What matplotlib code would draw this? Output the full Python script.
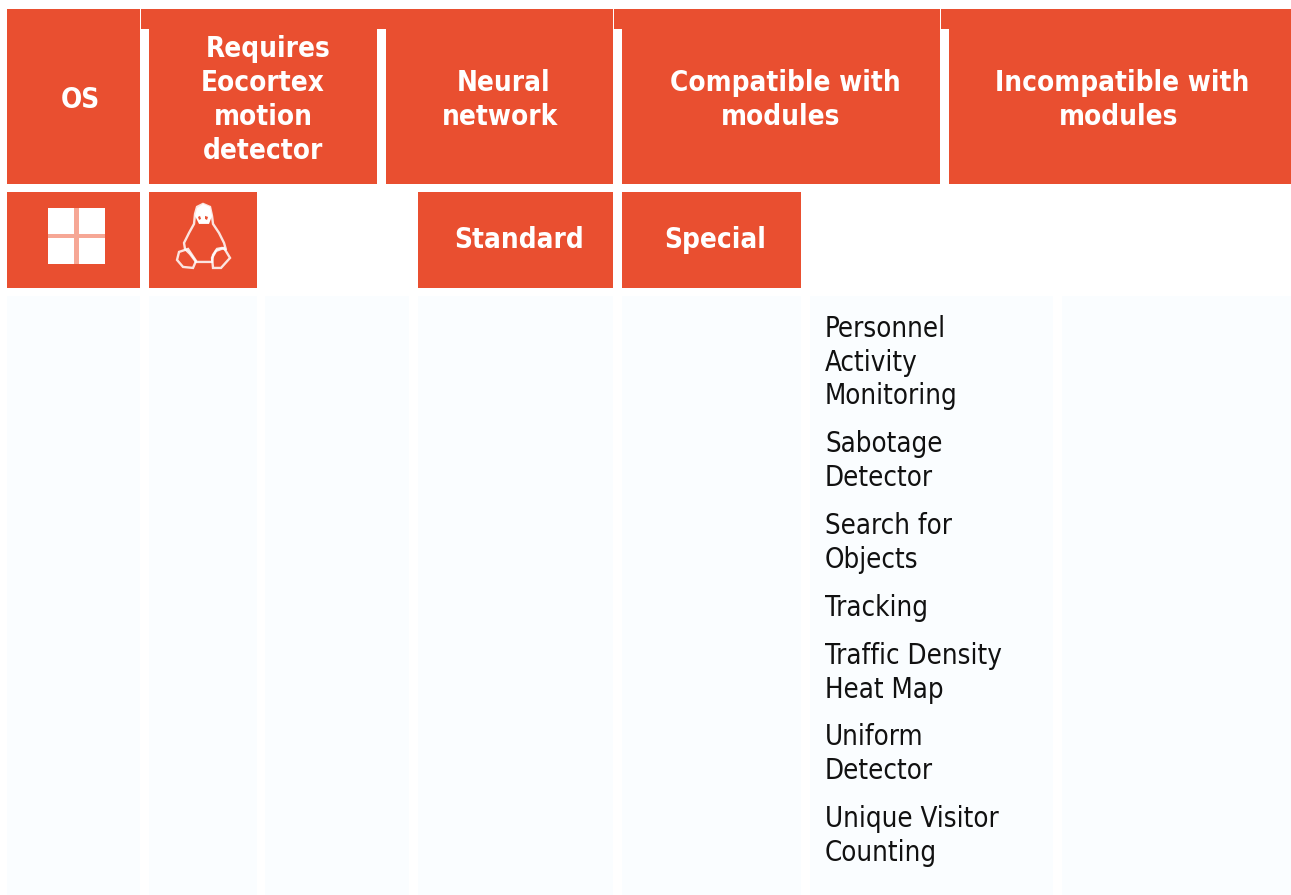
#!/usr/bin/env python3
"""Module compatibility table drawn as matplotlib patches, in pixel coordinates."""
import matplotlib
matplotlib.use('Agg')
import matplotlib.pyplot as plt
from matplotlib.patches import Rectangle, Polygon

ORANGE = '#e94f30'
PALE = '#fafdff'
FONT = 'DejaVu Sans'

# table text
header_labels = [['OS'], ['Requires', 'Eocortex', 'motion', 'detector'], ['Neural', 'network'],
                 ['Compatible with', 'modules'], ['Incompatible with', 'modules']]
sub_labels = ['Standard', 'Special']
compatible_modules = [['Personnel', 'Activity', 'Monitoring'], ['Sabotage', 'Detector'],
                      ['Search for', 'Objects'], ['Tracking'], ['Traffic Density', 'Heat Map'],
                      ['Uniform', 'Detector'], ['Unique Visitor', 'Counting']]

# layout, in pixels: (left, right, top, bottom)
header_cells = [(7, 140, 9, 184), (149, 377, 29, 184), (386, 613, 29, 184),
                (622, 940, 29, 184), (949, 1291, 29, 184)]
header_strips = [(141, 613, 9, 29), (614, 940, 9, 29), (941, 1291, 9, 29)]
sub_cells = [(7, 140, 192, 288), (149, 257, 192, 288), (418, 613, 192, 288), (622, 801, 192, 288)]
body_cols = [(7, 140), (149, 257), (265, 409), (418, 613), (622, 801), (810, 1053), (1062, 1291)]
body_top, body_bottom = 296, 895

header_text_x = [[80], [268, 263, 263, 263], [504, 500], [785, 781], [1122, 1118]]
header_text_y = [[97], [46, 80, 114, 148], [80, 114], [80, 114], [80, 114]]
sub_text_x = [519, 715]
sub_text_y = 237
module_x = 825
module_y = [[326, 360, 393], [441, 475], [523, 557], [605], [653, 687], [734, 768], [816, 850]]

fig = plt.figure(figsize=(12.911, 8.951), dpi=100)
ax = fig.add_axes([0, 0, 1, 1])
ax.set_xlim(0, 1291)
ax.set_ylim(895, 0)
ax.axis('off')


def box(left, right, top, bottom, color=ORANGE):
    ax.add_patch(Rectangle((left, top), right - left, bottom - top, facecolor=color,
                           edgecolor='none', linewidth=0))


for c in header_cells + header_strips + sub_cells:
    box(*c)
for left, right in body_cols:
    box(left, right, body_top, body_bottom, PALE)

# header text
for lines, xs, ys in zip(header_labels, header_text_x, header_text_y):
    for line, x, y in zip(lines, xs, ys):
        ax.text(x, y, line, color='white', fontsize=20, fontweight='bold', family=FONT,
                stretch='condensed', ha='center', va='center_baseline')
for label, x in zip(sub_labels, sub_text_x):
    ax.text(x, sub_text_y, label, color='white', fontsize=20, fontweight='bold', family=FONT,
            stretch='condensed', ha='center', va='center_baseline')

# module list
for lines, ys in zip(compatible_modules, module_y):
    for line, y in zip(lines, ys):
        ax.text(module_x, y, line, color='#111111', fontsize=19.8, family=FONT,
                stretch='condensed', ha='left', va='center_baseline')

# windows icon
box(48, 105, 208, 264, '#f6a795')
for left, right in [(48, 74), (79, 105)]:
    for top, bottom in [(208, 234), (238, 264)]:
        box(left, right, top, bottom, 'white')

# linux icon, outline
body_outline = [(203, 204), (210, 207), (212, 216), (213, 224), (219, 233), (224, 243), (226, 250),
                (222, 248), (217, 249), (213, 255), (212, 262), (196, 262), (190, 254), (185, 249),
                (184, 243), (189, 233), (194, 224), (195, 214), (197, 207)]
left_foot = [(179, 252), (188, 249), (196, 261), (193, 268), (183, 267), (177, 260)]
right_foot = [(216, 251), (224, 248), (230, 258), (221, 268), (213, 268), (212, 258)]
head_fill = [(197, 208), (203, 204), (210, 207), (212, 216), (209, 224), (199, 224), (195, 216)]
eyes = [[(198, 217), (200, 216), (201, 219), (199, 220)], [(205, 216), (208, 217), (207, 220), (205, 219)]]
for pts in (body_outline, left_foot, right_foot):
    ax.add_patch(Polygon(pts, closed=True, facecolor='none', edgecolor='white', linewidth=1.7, alpha=0.85))
ax.add_patch(Polygon(head_fill, closed=True, facecolor='white', edgecolor='none'))
for pts in eyes:
    ax.add_patch(Polygon(pts, closed=True, facecolor=ORANGE, edgecolor='none'))

fig.savefig('out.png', dpi=100, facecolor='white')
